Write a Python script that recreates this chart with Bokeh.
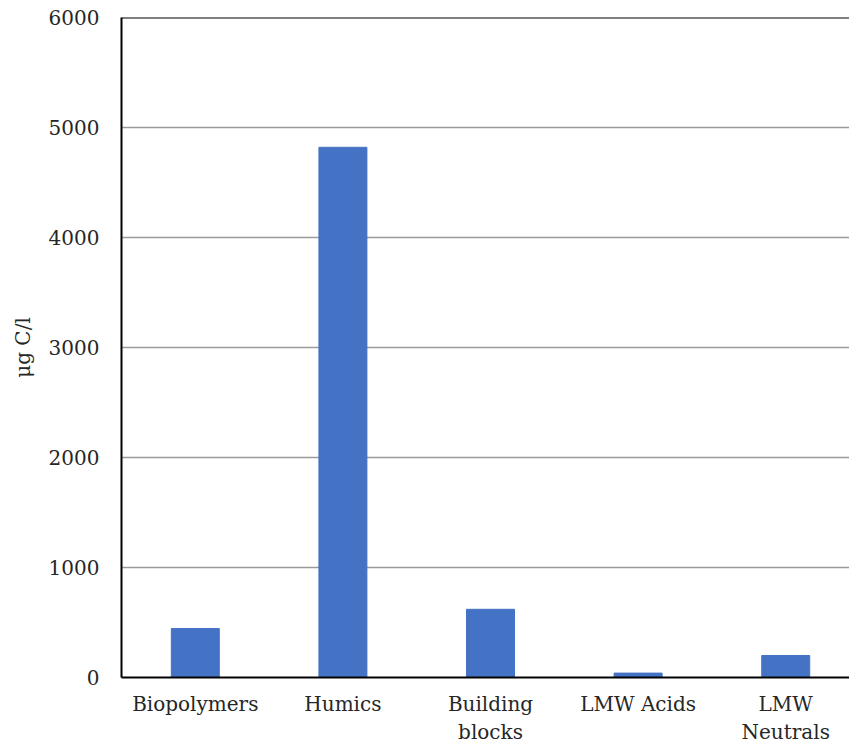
from bokeh.plotting import figure
from bokeh.models import Range1d, FixedTicker, Span, ColumnDataSource
from bokeh.embed import file_html
from bokeh.resources import INLINE

categories = ["Biopolymers", "Humics", "Building\nblocks", "LMW Acids", "LMW\nNeutrals"]
values = [445, 4820, 620, 40, 200]
y_ticks = [0, 1000, 2000, 3000, 4000, 5000, 6000]

xs = [i + 0.5 for i in range(len(categories))]
src = ColumnDataSource(dict(x=xs, top=values))

FONT = "DejaVu Serif"
TXT = "#262626"

p = figure(width=849, height=747, output_backend="svg", toolbar_location=None,
           x_range=Range1d(0, 4.932), y_range=Range1d(0, 6000),
           min_border_left=121, min_border_right=0, min_border_top=17, min_border_bottom=70)
p.outline_line_color = None
p.background_fill_color = "white"
p.border_fill_color = "white"

p.vbar(x="x", top="top", bottom=0, width=0.325, source=src,
       fill_color="#4472C4", line_color="#4472C4")

p.xgrid.visible = False
p.ygrid.ticker = FixedTicker(ticks=y_ticks[1:-1])
p.ygrid.grid_line_color = "#9a9a9a"
p.ygrid.grid_line_width = 1.5

p.yaxis.ticker = FixedTicker(ticks=y_ticks)
p.yaxis.major_tick_line_color = None
p.yaxis.minor_tick_line_color = None
p.yaxis.axis_line_color = "black"
p.yaxis.axis_line_width = 2
p.yaxis.major_label_text_font = FONT
p.yaxis.major_label_text_font_size = "20px"
p.yaxis.major_label_text_color = TXT
p.yaxis.major_label_standoff = 16
p.yaxis.axis_label = "\u03bcg C/l"
p.yaxis.axis_label_text_font = FONT
p.yaxis.axis_label_text_font_style = "normal"
p.yaxis.axis_label_text_font_size = "20px"
p.yaxis.axis_label_text_color = TXT
p.yaxis.axis_label_standoff = 11

p.xaxis.ticker = FixedTicker(ticks=xs)
p.xaxis.major_label_overrides = {x: c for x, c in zip(xs, categories)}
p.xaxis.major_tick_line_color = None
p.xaxis.minor_tick_line_color = None
p.xaxis.axis_line_color = "black"
p.xaxis.axis_line_width = 2
p.xaxis.major_label_text_font = FONT
p.xaxis.major_label_text_font_size = "20px"
p.xaxis.major_label_text_color = TXT
p.xaxis.major_label_text_line_height = 1.2
p.xaxis.major_label_standoff = 8

p.add_layout(Span(location=6000, dimension="width", line_color="black", line_width=2))

open("out.html", "w").write(file_html(p, INLINE))
